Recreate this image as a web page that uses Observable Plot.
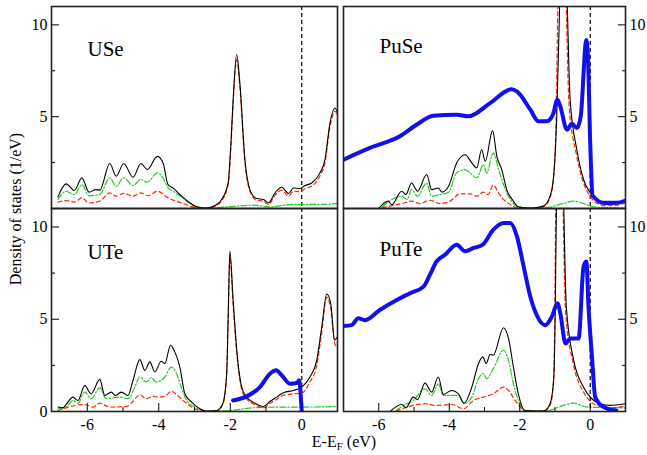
<!DOCTYPE html>
<html><head><meta charset="utf-8">
<script src="https://cdn.jsdelivr.net/npm/d3@7"></script>
<script src="https://cdn.jsdelivr.net/npm/@observablehq/plot@0.6"></script>
<style>
body{margin:0;background:#fff;}
#wrap{position:relative;width:647px;height:455px;font-family:"Liberation Serif","Times New Roman",Times,"DejaVu Serif",serif;color:#000;}
#wrap svg{position:absolute;left:0;top:0;}
#wrap svg text{font-family:"Liberation Serif","Times New Roman",Times,"DejaVu Serif",serif;}
#ylab{position:absolute;left:16px;top:209px;transform:translate(-50%,-50%) rotate(-90deg);font-size:16px;white-space:nowrap;}
#xlab{position:absolute;left:344px;top:433px;transform:translateX(-50%);font-size:16px;white-space:nowrap;}
#xlab sub{font-size:11px;vertical-align:-3px;}
</style>
</head><body>
<div id="wrap">
<div id="ylab">Density of states (1/eV)</div>
<div id="xlab">E-E<sub>F</sub> (eV)</div>
</div>
<script>
// ---- data: [energy (eV), DOS (1/eV)] ----
const USe_total = [[-6.82,0.63],[-6.59,1.34],[-6.36,0.98],[-6.15,1.67],[-5.95,0.89],[-5.75,1.03],[-5.65,1.0],[-5.37,2.45],[-5.19,1.76],[-4.98,2.45],[-4.72,1.7],[-4.5,2.45],[-4.32,2.12],[-4.04,2.84],[-3.88,2.48],[-3.74,1.3],[-3.6,1.12],[-3.36,0.67],[-3.13,0.31],[-2.94,0.09],[-2.66,0.02],[-2.43,0.16],[-2.24,0.49],[-2.06,1.39],[-1.98,3.6],[-1.92,5.9],[-1.82,8.37],[-1.73,6.8],[-1.59,2.66],[-1.45,1.03],[-1.26,0.54],[-1.07,0.49],[-0.93,0.31],[-0.75,0.85],[-0.56,1.16],[-0.37,0.82],[-0.23,1.12],[-0.05,1.09],[0.09,1.25],[0.28,1.39],[0.51,1.94],[0.65,2.66],[0.79,4.66],[0.93,5.47],[1.0,5.2]];
const USe_f = [[-6.82,0.34],[-6.59,0.43],[-6.36,0.35],[-6.15,0.58],[-5.95,0.3],[-5.65,0.4],[-5.37,0.85],[-5.19,0.67],[-4.98,0.82],[-4.72,0.67],[-4.5,0.85],[-4.3,0.7],[-4.04,0.94],[-3.74,0.58],[-3.36,0.3],[-2.94,0.04],[-2.66,0.01],[-2.43,0.12],[-2.24,0.42],[-2.06,1.3],[-1.98,3.4],[-1.92,5.7],[-1.82,8.1],[-1.73,6.6],[-1.59,2.55],[-1.45,0.95],[-1.26,0.45],[-1.07,0.4],[-0.93,0.22],[-0.75,0.72],[-0.56,1.0],[-0.37,0.68],[-0.23,0.95],[-0.05,0.92],[0.09,1.08],[0.28,1.22],[0.51,1.78],[0.65,2.5],[0.79,4.45],[0.93,5.3],[1.0,5.0]];
const USe_p = [[-6.82,0.49],[-6.59,0.94],[-6.36,0.76],[-6.15,1.3],[-5.95,0.7],[-5.65,0.76],[-5.37,1.67],[-5.19,1.21],[-4.98,1.67],[-4.72,1.25],[-4.5,1.58],[-4.32,1.43],[-4.04,1.94],[-3.88,1.67],[-3.74,1.12],[-3.6,0.94],[-3.36,0.63],[-3.13,0.27],[-2.94,0.07],[-2.66,0.02],[-1.9,0.12],[-1.35,0.18],[-0.9,0.09],[-0.23,0.22],[0.5,0.22],[1.0,0.27]];

const PuSe_total = [[-6.0,0],[-5.73,0.4],[-5.63,0.2],[-5.35,0.94],[-5.23,0.76],[-5.07,1.39],[-4.9,0.94],[-4.64,1.85],[-4.5,1.03],[-4.31,1.12],[-4.21,0.89],[-4.02,1.21],[-3.79,2.48],[-3.55,2.93],[-3.36,2.48],[-3.22,2.21],[-3.08,3.21],[-2.98,2.57],[-2.77,4.24],[-2.65,2.84],[-2.51,2.12],[-2.37,1.03],[-2.18,0.4],[-2.04,0.09],[-1.7,0.02],[-1.33,0.13],[-1.14,0.67],[-1.04,1.76],[-0.95,5.0],[-0.87,11],[-0.79,18],[-0.73,18],[-0.65,11],[-0.57,5.9],[-0.38,3.2],[-0.19,1.58],[0,0.85],[0.19,0.4],[0.47,0.22],[0.76,0.27],[0.98,0.4]];
const PuSe_f = [[-5.9,0.04],[-5.35,0.27],[-5.07,0.4],[-4.83,0.27],[-4.55,0.45],[-4.26,0.27],[-3.98,0.4],[-3.69,0.8],[-3.41,0.8],[-3.22,0.67],[-3.03,0.89],[-2.9,0.76],[-2.75,1.27],[-2.6,0.85],[-2.46,0.49],[-2.27,0.22],[-2.08,0.04],[-1.7,0.01],[-1.33,0.1],[-1.14,0.6],[-1.04,1.65],[-0.97,4.8],[-0.92,11],[-0.82,18],[-0.76,18],[-0.68,11],[-0.6,5.6],[-0.4,3.0],[-0.19,1.4],[0,0.65],[0.19,0.28],[0.47,0.15],[0.76,0.18],[0.98,0.3]];
const PuSe_p = [[-5.9,0.1],[-5.35,0.67],[-5.2,0.49],[-5.07,1.03],[-4.9,0.67],[-4.64,1.39],[-4.5,0.67],[-4.26,0.76],[-4.02,0.89],[-3.79,1.94],[-3.55,2.12],[-3.36,1.85],[-3.22,1.67],[-3.03,2.39],[-2.94,1.94],[-2.75,3.03],[-2.6,2.12],[-2.46,1.3],[-2.27,0.49],[-2.08,0.13],[-1.7,0.02],[-1.23,0.05],[-0.76,0.27],[-0.47,0.4],[-0.19,0.27],[0.09,0.09],[0.98,0.03]];
const PuSe_exp = [[-7.0,2.66],[-6.25,3.3],[-5.4,3.93],[-4.92,4.57],[-4.45,5.05],[-3.79,5.11],[-3.46,5.02],[-2.84,5.74],[-2.23,6.5],[-2.08,6.38],[-1.7,5.38],[-1.47,4.75],[-1.23,4.75],[-1.06,5.11],[-0.93,5.92],[-0.85,5.56],[-0.66,4.29],[-0.52,4.62],[-0.38,4.38],[-0.27,5.02],[-0.11,9.18],[-0.06,8.0],[0.0,3.5],[0.07,0.7],[0.38,0.31],[0.76,0.31],[0.98,0.42]];

const UTe_total = [[-6.82,0.24],[-6.68,0.2],[-6.59,0.38],[-6.4,0.78],[-6.26,0.6],[-6.07,1.4],[-5.89,0.96],[-5.65,1.74],[-5.51,0.87],[-5.33,1.05],[-5.21,0.87],[-5.05,1.05],[-4.86,0.87],[-4.72,1.69],[-4.53,2.81],[-4.39,2.23],[-4.25,2.69],[-4.11,2.14],[-3.93,2.72],[-3.83,2.6],[-3.67,3.59],[-3.55,3.23],[-3.41,2.41],[-3.27,0.96],[-3.08,0.51],[-2.85,0.15],[-2.66,0.02],[-2.38,0.05],[-2.21,0.42],[-2.1,2.05],[-2.06,5.0],[-2.01,8.68],[-1.92,6.04],[-1.8,2.96],[-1.68,1.32],[-1.54,0.78],[-1.36,0.51],[-1.07,0.27],[-0.89,0.54],[-0.7,0.78],[-0.51,1.02],[-0.23,1.14],[0,1.32],[0.23,1.87],[0.42,2.78],[0.56,4.59],[0.7,6.37],[0.81,5.86],[0.92,3.87],[1.0,4.05]];
const UTe_f = [[-6.82,0.05],[-6.59,0.2],[-6.07,0.38],[-5.84,0.24],[-5.65,0.45],[-5.37,0.24],[-4.91,0.27],[-4.72,0.54],[-4.53,0.91],[-4.35,0.69],[-4.16,0.82],[-3.97,0.78],[-3.79,0.87],[-3.65,1.1],[-3.51,0.93],[-3.32,0.6],[-3.08,0.24],[-2.85,0.05],[-2.66,0.01],[-2.38,0.04],[-2.21,0.38],[-2.1,1.95],[-2.06,4.8],[-2.01,8.37],[-1.92,5.8],[-1.8,2.8],[-1.68,1.2],[-1.54,0.68],[-1.36,0.42],[-1.07,0.2],[-0.89,0.44],[-0.7,0.66],[-0.51,0.88],[-0.23,0.96],[0,1.0],[0.23,1.6],[0.42,2.5],[0.56,4.3],[0.7,6.2],[0.81,5.6],[0.92,3.7],[1.0,3.5]];
const UTe_p = [[-6.82,0.15],[-6.59,0.24],[-6.4,0.6],[-6.26,0.45],[-6.07,1.05],[-5.89,0.69],[-5.65,1.29],[-5.47,0.69],[-5.09,0.78],[-4.86,0.69],[-4.67,1.32],[-4.53,1.87],[-4.35,1.6],[-4.21,1.83],[-4.07,1.6],[-3.83,1.87],[-3.65,2.41],[-3.51,2.09],[-3.37,1.32],[-3.22,0.6],[-2.94,0.2],[-2.66,0.02],[-2.1,0.04],[-1.36,0.2],[-0.51,0.24],[0,0.24],[1.0,0.27]];
const UTe_exp = [[-1.92,0.6],[-1.54,0.82],[-1.17,1.32],[-0.89,2.05],[-0.72,2.23],[-0.56,1.96],[-0.33,1.51],[-0.14,1.54],[-0.07,1.69],[-0.02,0.6],[0.0,0.0]];

const PuTe_total = [[-5.68,0],[-5.35,0.38],[-5.23,0.2],[-5.02,0.78],[-4.9,0.64],[-4.69,1.54],[-4.5,1.05],[-4.31,1.87],[-4.17,0.93],[-3.93,1.14],[-3.74,0.96],[-3.58,0.45],[-3.36,1.32],[-3.17,2.6],[-3.05,2.96],[-2.95,2.6],[-2.84,3.1],[-2.75,3.05],[-2.46,4.54],[-2.32,3.96],[-2.18,2.41],[-2.04,0.96],[-1.85,0.05],[-1.33,0.02],[-1.14,0.42],[-1.04,1.69],[-1.0,4.5],[-0.96,11],[-0.87,18],[-0.82,18],[-0.75,11],[-0.68,5.7],[-0.47,2.78],[-0.19,1.32],[0,0.78],[0.28,0.42],[0.57,0.33],[0.98,0.42]];
const PuTe_f = [[-5.5,0.02],[-5.02,0.33],[-4.69,0.42],[-4.36,0.33],[-3.93,0.38],[-3.6,0.15],[-3.31,0.6],[-3.03,0.78],[-2.75,0.96],[-2.46,1.32],[-2.32,1.14],[-2.13,0.6],[-1.94,0.15],[-1.8,0.02],[-1.33,0.01],[-1.14,0.35],[-1.04,1.6],[-1.01,4.3],[-0.98,11],[-0.89,18],[-0.84,18],[-0.77,11],[-0.7,5.4],[-0.47,2.5],[-0.19,1.05],[0,0.55],[0.28,0.28],[0.57,0.2],[0.98,0.28]];
const PuTe_p = [[-5.5,0.05],[-5.35,0.27],[-5.02,0.6],[-4.69,1.23],[-4.5,0.87],[-4.31,1.5],[-4.17,0.87],[-3.93,0.87],[-3.74,0.87],[-3.58,0.42],[-3.36,0.78],[-3.17,1.78],[-3.03,2.05],[-2.94,1.78],[-2.75,2.32],[-2.46,3.32],[-2.32,2.78],[-2.18,1.5],[-2.04,0.6],[-1.85,0.05],[-1.23,0.05],[-0.76,0.33],[-0.47,0.45],[-0.09,0.24],[0.98,0.2]];
const PuTe_exp = [[-7.0,4.63],[-6.77,4.68],[-6.58,5.05],[-6.39,4.95],[-5.97,5.5],[-5.49,6.04],[-5.11,6.41],[-4.73,6.77],[-4.55,7.4],[-4.36,8.13],[-4.12,8.49],[-3.79,9.04],[-3.55,8.68],[-3.31,8.86],[-3.05,9.04],[-2.75,9.85],[-2.46,10.22],[-2.27,10.22],[-2.08,9.49],[-1.89,7.86],[-1.7,6.22],[-1.52,5.23],[-1.28,4.68],[-1.09,5.14],[-0.93,5.86],[-0.85,5.32],[-0.7,3.68],[-0.57,3.96],[-0.33,3.96],[-0.19,7.86],[-0.11,8.13],[-0.05,5.68],[0.05,2.96],[0.14,0.78],[0.38,0.24],[0.74,0.05]];

const xMajor = [-6,-4,-2,0], xMinor = [-5,-3,-1];
const yMinor = [2.5,7.5];
const yLabelsTop = [5,10], yLabelsBottomLeft = [0,5,10], yLabelsBottomRight = [5,10];

const panels = [
  {name:"USe",  col:0,row:0, total:USe_total, f:USe_f, p:USe_p, exp:null, yl:yLabelsTop, ldy:35},
  {name:"PuSe", col:1,row:0, total:PuSe_total, f:PuSe_f, p:PuSe_p, exp:PuSe_exp, yl:yLabelsTop, ldy:32},
  {name:"UTe",  col:0,row:1, total:UTe_total, f:UTe_f, p:UTe_p, exp:UTe_exp, yl:yLabelsBottomLeft, ldy:36},
  {name:"PuTe", col:1,row:1, total:PuTe_total, f:PuTe_f, p:PuTe_p, exp:PuTe_exp, yl:yLabelsBottomRight, ldy:33}
];

const wrap = document.getElementById("wrap");
const W = 647, H = 455;
const fmt = d => String(d);
const serif = '"Liberation Serif","Times New Roman",Times,"DejaVu Serif",serif';

for (const P of panels) {
  const left = P.col === 0 ? 51 : 343, right = P.col === 0 ? 337 : 625;
  const top = P.row === 0 ? 6 : 208, bottom = P.row === 0 ? 208 : 411;
  const anchor = P.col === 0 ? "left" : "right";
  const acc = {x: d => d[0], y: d => d[1]};
  const marks = [
    Plot.ruleX([0], {stroke:"#000", strokeWidth:1.2, strokeDasharray:"4,3"}),
    Plot.line(P.p, {...acc, stroke:"#22cc22", strokeWidth:1.2, strokeDasharray:"6,2,1.5,2", curve:"monotone-x", clip:true}),
    Plot.line(P.f, {...acc, stroke:"#ff2a00", strokeWidth:1.2, strokeDasharray:"4,3", curve:"monotone-x", clip:true}),
    Plot.line(P.total, {...acc, stroke:"#000", strokeWidth:1.1, curve:"monotone-x", clip:true}),
  ];
  if (P.exp) marks.push(Plot.line(P.exp, {...acc, stroke:"#1010ee", strokeWidth:4, strokeLinejoin:"round", curve:"monotone-x", clip:true}));
  marks.push(
    Plot.axisY(P.yl, {anchor, tickSize:-8, tickPadding:12, tickFormat:fmt, fontSize:16, fontFamily:serif, label:null}),
    Plot.axisY(yMinor, {anchor, tickSize:-4, tickFormat:()=>"", label:null})
  );
  if (P.row === 1) {
    marks.push(
      Plot.axisX(xMajor, {anchor:"bottom", tickSize:-8, tickPadding:15, tickFormat:fmt, fontSize:16, fontFamily:serif, label:null}),
      Plot.axisX(xMinor, {anchor:"bottom", tickSize:-4, tickFormat:()=>"", label:null})
    );
  }
  marks.push(
    Plot.frame({stroke:"#222", strokeWidth:1.6}),
    Plot.text([P.name], {frameAnchor:"top-left", dx:36, dy:P.ldy, fontSize:21, fontFamily:serif, textAnchor:"start"})
  );
  const svg = Plot.plot({
    width: W, height: H,
    marginLeft: left, marginRight: W - right, marginTop: top, marginBottom: H - bottom,
    x: {domain:[-7,1], axis:null},
    y: {domain:[0,11], axis:null},
    style: {background:"transparent", fontFamily:serif, color:"#000"},
    marks
  });
  wrap.appendChild(svg);
}
</script>
</body></html>
